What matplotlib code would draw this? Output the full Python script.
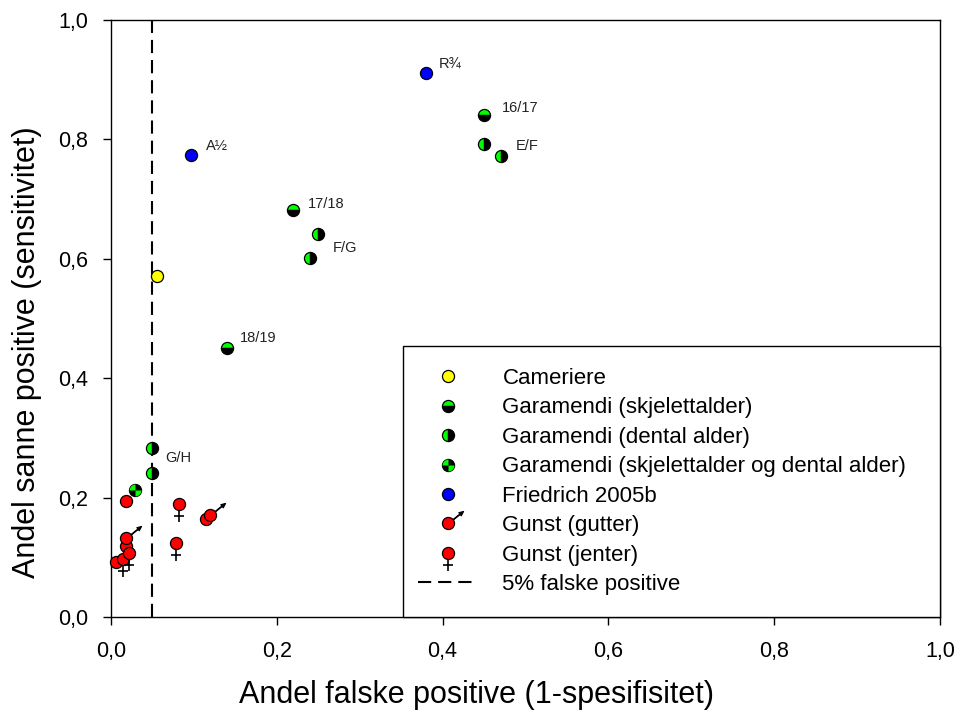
import numpy as np
import matplotlib
matplotlib.use("Agg")
import matplotlib.pyplot as plt
from matplotlib.path import Path
from matplotlib.markers import MarkerStyle
from matplotlib.lines import Line2D
from matplotlib.patches import Rectangle
from matplotlib.legend_handler import HandlerTuple
from matplotlib.ticker import FuncFormatter

plt.rcParams['font.family'] = ['Liberation Sans', 'DejaVu Sans']
plt.rcParams['lines.scale_dashes'] = False

# ---------------- data ----------------
cameriere_x = [0.055]
cameriere_y = [0.572]

skjelett_x = [0.45, 0.22, 0.14]
skjelett_y = [0.841, 0.681, 0.450]

dental_x = [0.45, 0.47, 0.25, 0.24, 0.05, 0.05]
dental_y = [0.792, 0.772, 0.642, 0.602, 0.283, 0.242]

kombinert_x = [0.029]
kombinert_y = [0.213]

friedrich_x = [0.097, 0.38]
friedrich_y = [0.774, 0.912]

gunst_gutter_x = [0.018, 0.119]
gunst_gutter_y = [0.132, 0.171]

gunst_jenter_x = [0.014, 0.022, 0.079, 0.082]
gunst_jenter_y = [0.097, 0.107, 0.124, 0.189]

gunst_andre_x = [0.018, 0.018, 0.006, 0.115]
gunst_andre_y = [0.195, 0.119, 0.092, 0.164]

cutoff_x = 0.05

point_labels = ["A½", "R¾", "16/17", "E/F", "17/18", "F/G", "18/19", "G/H"]
label_x = [0.097, 0.38, 0.45, 0.47, 0.22, 0.24, 0.14, 0.05]
label_y = [0.774, 0.912, 0.841, 0.772, 0.681, 0.602, 0.450, 0.242]
label_dx = [15, 13, 18, 15, 14, 23, 13, 13]
label_dy = [9, 8, 7, 10, 6, 10, 10, 15]

xticks = [0.0, 0.2, 0.4, 0.6, 0.8, 1.0]
yticks = [0.0, 0.2, 0.4, 0.6, 0.8, 1.0]

legend_labels = ["Cameriere", "Garamendi (skjelettalder)", "Garamendi (dental alder)",
                 "Garamendi (skjelettalder og dental alder)", "Friedrich 2005b",
                 "Gunst (gutter)", "Gunst (jenter)", "5% falske positive"]

# ---------------- style ----------------
GREEN = '#00ff00'
D = 8.7       # marker size (pt)
MEW = 0.9

def arrow_marker():
    T = np.array([2.5, 2.0])
    u = T / np.linalg.norm(T)
    n = np.array([-u[1], u[0]])
    S = u * 1.0
    B = T - 0.75 * u
    w = 0.05
    hw = 0.33
    shaft = [S + n * w, B + n * w, B - n * w, S - n * w, S + n * w]
    head = [B + n * hw, T, B - n * hw, B + n * hw]
    verts = shaft + head
    codes = ([Path.MOVETO] + [Path.LINETO] * 3 + [Path.CLOSEPOLY] +
             [Path.MOVETO, Path.LINETO, Path.LINETO, Path.CLOSEPOLY])
    verts = np.array(verts)
    M = np.max(np.abs(verts))
    return MarkerStyle(Path(verts, codes)), D * M

def cross_marker():
    verts = np.array([[0, -1.2], [0, -2.9], [-0.85, -2.05], [0.85, -2.05]])
    codes = [Path.MOVETO, Path.LINETO, Path.MOVETO, Path.LINETO]
    M = np.max(np.abs(verts))
    return MarkerStyle(Path(verts, codes)), D * M

ARROW, ARROW_SIZE = arrow_marker()
CROSS, CROSS_SIZE = cross_marker()
WEDGE_TL = MarkerStyle(Path.wedge(90, 180))
WEDGE_BR = MarkerStyle(Path.wedge(270, 360))

fig = plt.figure(figsize=(9.58, 7.15), dpi=100)
ax = fig.add_axes([111 / 958, 1 - 617 / 715, 829 / 958, 597 / 715])
ax.set_xlim(0, 1)
ax.set_ylim(0, 1)

# 5% line
ax.plot([cutoff_x, cutoff_x], [0, 1], color='black', lw=1.5, dashes=(9.5, 5), zorder=2)

common = dict(ls='', markersize=D, markeredgecolor='black', markeredgewidth=MEW, clip_on=False, zorder=4)

ax.plot(cameriere_x, cameriere_y, marker='o', markerfacecolor='#ffff00', **common)
ax.plot(skjelett_x, skjelett_y, marker='o', fillstyle='top', markerfacecolor=GREEN,
        markerfacecoloralt='black', **common)
ax.plot(dental_x, dental_y, marker='o', fillstyle='left', markerfacecolor=GREEN,
        markerfacecoloralt='black', **common)
ax.plot(kombinert_x, kombinert_y, marker='o', markerfacecolor='black', **common)
ax.plot(kombinert_x, kombinert_y, ls='', marker=WEDGE_TL, markersize=D - 0.2, markerfacecolor=GREEN,
        markeredgewidth=0, clip_on=False, zorder=5)
ax.plot(kombinert_x, kombinert_y, ls='', marker=WEDGE_BR, markersize=D - 0.2, markerfacecolor=GREEN,
        markeredgewidth=0, clip_on=False, zorder=5)
ax.plot(friedrich_x, friedrich_y, marker='o', markerfacecolor='#0000ff', **common)

ax.plot(gunst_andre_x, gunst_andre_y, marker='o', markerfacecolor='#ff0000', **common)
ax.plot(gunst_gutter_x, gunst_gutter_y, marker='o', markerfacecolor='#ff0000', **common)
ax.plot(gunst_gutter_x, gunst_gutter_y, ls='', marker=ARROW, markersize=ARROW_SIZE,
        markerfacecolor='black', markeredgecolor='black', markeredgewidth=0.8, clip_on=False, zorder=4)
ax.plot(gunst_jenter_x, gunst_jenter_y, marker='o', markerfacecolor='#ff0000', **common)
ax.plot(gunst_jenter_x, gunst_jenter_y, ls='', marker=CROSS, markersize=CROSS_SIZE,
        markerfacecolor='none', markeredgecolor='black', markeredgewidth=1.2, clip_on=False, zorder=4)

for t, x, y, dx, dy in zip(point_labels, label_x, label_y, label_dx, label_dy):
    ax.annotate(t, (x, y), xytext=(dx, dy), textcoords='offset pixels',
                ha='left', va='center', fontsize=10.5, color='#222222')

# axes styling
for s in ax.spines.values():
    s.set_linewidth(1.0)
ax.set_xticks(xticks)
ax.set_yticks(yticks)
fmt = FuncFormatter(lambda v, p: f"{v:.1f}".replace('.', ','))
ax.xaxis.set_major_formatter(fmt)
ax.yaxis.set_major_formatter(fmt)
ax.tick_params(direction='out', length=6, width=1.0, labelsize=15.5, top=False, right=False)
ax.tick_params(axis='y', pad=10.5)
ax.tick_params(axis='x', pad=11)
ax.set_xlabel("Andel falske positive (1-spesifisitet)", fontsize=22)
ax.set_ylabel("Andel sanne positive (sensitivitet)", fontsize=22)
ax.xaxis.set_label_coords((477 - 111) / 829, -(703 - 617) / 597)
ax.yaxis.set_label_coords(-(111 - 12) / 829, (617 - 352) / 597)
ax.xaxis.label.set_va('baseline')
ax.yaxis.label.set_va('top')

# legend frame
ax.add_patch(Rectangle(((403 - 111) / 829, 0), 1 - (403 - 111) / 829, (617 - 346) / 597,
                       transform=ax.transAxes, facecolor='white', edgecolor='black',
                       lw=1.0, zorder=6, clip_on=False))

base = {k: v for k, v in common.items() if k not in ('clip_on', 'zorder')}
h_cam = Line2D([], [], marker='o', markerfacecolor='#ffff00', **base)
h_skj = Line2D([], [], marker='o', fillstyle='top', markerfacecolor=GREEN, markerfacecoloralt='black', **base)
h_den = Line2D([], [], marker='o', fillstyle='left', markerfacecolor=GREEN, markerfacecoloralt='black', **base)
h_k0 = Line2D([], [], marker='o', markerfacecolor='black', **base)
h_k1 = Line2D([], [], ls='', marker=WEDGE_TL, markersize=D - 0.2, markerfacecolor=GREEN, markeredgewidth=0)
h_k2 = Line2D([], [], ls='', marker=WEDGE_BR, markersize=D - 0.2, markerfacecolor=GREEN, markeredgewidth=0)
h_fri = Line2D([], [], marker='o', markerfacecolor='#0000ff', **base)
h_g0 = Line2D([], [], marker='o', markerfacecolor='#ff0000', **base)
h_g1 = Line2D([], [], ls='', marker=ARROW, markersize=ARROW_SIZE, markerfacecolor='black',
              markeredgecolor='black', markeredgewidth=0.8)
h_j1 = Line2D([], [], ls='', marker=CROSS, markersize=CROSS_SIZE, markerfacecolor='none',
              markeredgecolor='black', markeredgewidth=1.2)
h_line = Line2D([], [], color='black', lw=1.5, dashes=(9.5, 5))

handles = [h_cam, h_skj, h_den, (h_k0, h_k1, h_k2), h_fri, (h_g0, h_g1), (h_g0, h_j1), h_line]
leg = ax.legend(handles, legend_labels, handler_map={tuple: HandlerTuple(ndivide=1)},
                loc='upper left', bbox_to_anchor=(418 / 958, 1 - 368 / 715),
                bbox_transform=fig.transFigure, frameon=False, fontsize=16,
                borderpad=0, borderaxespad=0, handlelength=2.7, handletextpad=1.1,
                labelspacing=0.38)
leg.set_zorder(7)

fig.savefig("out.png", dpi=100)
